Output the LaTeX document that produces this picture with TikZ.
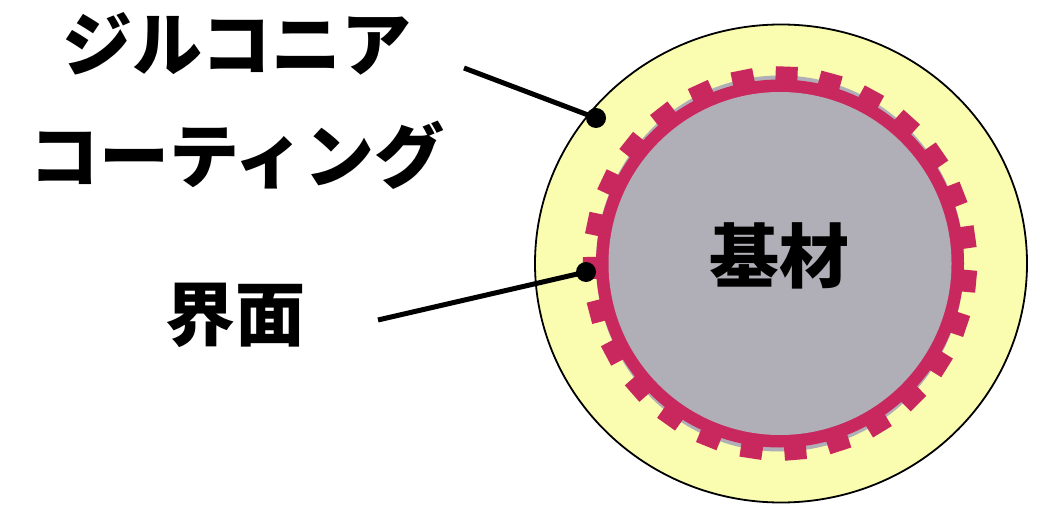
\documentclass[tikz,border=0pt]{standalone}
\usepackage{fontspec}
\newfontfamily\jp{Noto Sans CJK JP}
\definecolor{coatyel}{RGB}{250,252,175}
\definecolor{ifred}{RGB}{201,40,94}
\definecolor{basegray}{RGB}{176,175,183}
\tikzset{
  lbl/.style={font=\jp\bfseries\fontsize{70}{112}\selectfont, inner sep=0pt, align=center},
  dotnode/.style={circle, fill=black, minimum size=20pt, inner sep=0pt},
  leader/.style={line width=5pt, black},
  toothfill/.style={fill=ifred}
}
\begin{document}
\begin{tikzpicture}[x=1pt,y=-1pt]
\useasboundingbox (0,0) rectangle (1041,505);
\coordinate (c) at (781,263.5);
% coating
\draw[fill=coatyel, line width=1.8pt] (c) ellipse [x radius=246pt, y radius=239pt];
% gray shadow ring
\fill[basegray] (780,263.5) ellipse [x radius=184pt, y radius=188pt];
% interface gear
\fill[ifred] (780,263.5) circle [radius=184pt];
\foreach \i in {0,...,26}{
  \pgfmathsetmacro{\a}{88+\i*360/27}
  \fill[toothfill, shift={(780,263.5)}, rotate=\a] (175pt,-11pt) rectangle (197pt,11pt);
}
% substrate
\fill[basegray] (780,263.5) circle [radius=171.5pt];
\node[lbl] (base) at (779,256) {基材};
% labels
\node[lbl] (zirc) at (237,101) {ジルコニア\\コーティング};
\node[lbl] (iface) at (235,315) {界面};
% leaders
\coordinate (z0) at (464,68);
\coordinate (i0) at (378,320);
\node[dotnode] (zd) at (596,118) {};
\node[dotnode] (id) at (586,272) {};
\draw[leader] (z0) -- (zd.center);
\draw[leader] (i0) -- (id.center);
\end{tikzpicture}
\end{document}
